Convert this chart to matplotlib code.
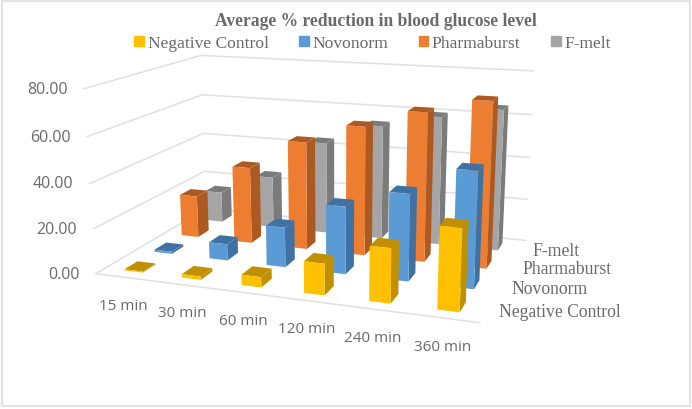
import numpy as np
import matplotlib
matplotlib.use("Agg")
import matplotlib.pyplot as plt
from matplotlib.patches import Patch, Rectangle

W, H = 692, 410
categories = ["15 min", "30 min", "60 min", "120 min", "240 min", "360 min"]
series = ["Negative Control", "Novonorm", "Pharmaburst", "F-melt"]
negative_control = [0.5, 1.5, 4.5, 13.5, 23, 34]
novonorm = [1, 7.5, 18, 30, 38, 50]
pharmaburst = [20, 36, 50, 59, 67, 73.5]
f_melt = [15, 25, 44, 54, 60, 65]
yticks = [0, 20, 40, 60, 80]
main_colors = ["#ffc000", "#5b9bd5", "#ed7d31", "#a5a5a5"]
dark_colors = ["#c09000", "#3f72a3", "#ad5a22", "#7b7b7b"]

# camera calibration: box corners (cat, series, value) -> reference pixels
world = np.array([(0,0,0),(0,0,80),(0,4,0),(0,4,80),(6,4,0),(6,4,80),(6,0,0)], float)
pix = np.array([(95,274),(85,90),(207,210),(200,56),(525,241),(534,72),(480,324)], float)
rows = []
for (X, Y, Z), (u, v) in zip(world, pix):
    rows.append([X, Y, Z, 1, 0, 0, 0, 0, -u*X, -u*Y, -u*Z, -u])
    rows.append([0, 0, 0, 0, X, Y, Z, 1, -v*X, -v*Y, -v*Z, -v])
P = np.linalg.svd(np.array(rows))[2][-1].reshape(3, 4)
if P[2] @ np.array([3, 2, 40, 1]) < 0:
    P = -P
P = P / abs(P[2] @ np.array([3, 2, 40, 1]))

def to_px(x, y, z):
    h = P @ np.array([x, y, z, 1.0])
    return h[0]/h[2], h[1]/h[2]

fig = plt.figure(figsize=(W/100, H/100), dpi=100, facecolor="white")
ax = fig.add_axes([0, 0, 1, 1], projection="3d", computed_zorder=False)
ax.set_axis_off()
ax.apply_aspect = lambda position=None: None

def get_proj():
    # pixel (y down) -> display -> 2D axes data
    flip = np.array([[1, 0, 0], [0, -1, H], [0, 0, 1.0]])
    A = ax.transData.inverted().get_matrix() @ flip @ P
    return np.array([A[0], A[1], [0, 0, 0, -1.0], A[2]])
ax.get_proj = get_proj

GRID = "#e0e0e0"
for v in yticks:
    ax.plot([0, 0, 6], [0, 4, 4], [v, v, v], color=GRID, lw=1.1, zorder=1)
ax.plot([0, 6], [0, 0], [0, 0], color=GRID, lw=1.1, zorder=1)

values = [negative_control, novonorm, pharmaburst, f_melt]
bw, bd = 0.32, 0.42
z = 10
for s in [3, 2, 1, 0]:
    for i, val in enumerate(values[s]):
        clear = (0, 0, 0, 0)
        faces = [clear, dark_colors[s], main_colors[s], clear, clear, dark_colors[s]]
        ax.bar3d(i + (1-bw)/2, s + (1-bd)/2, 0, bw, bd, val, color=faces,
                 shade=False, edgecolor="none", linewidth=0, zorder=z)
        z += 1

TXT = "#6a6a6a"
def ptext(x, y, s, **kw):
    fig.text(x/W, 1-y/H, s, color=TXT, va="center", **kw)

for v in yticks:
    x0, y0 = to_px(0, 0, v)
    ptext(x0-16.5, y0, f"{v:.2f}", ha="right", family="Open Sans", fontsize=11.5)

for i, c in enumerate(categories):
    x0, y0 = to_px(i+0.5, 0, 0)
    ptext(x0-1, y0+28, c, ha="center", family="Open Sans", fontsize=11)

for s, name in enumerate(series):
    x0, y0 = to_px(6, s+0.5, 0)
    ptext(x0+12, y0+1.5, name, ha="left", family="Liberation Serif", fontsize=12.7)

ptext(376, 22, "Average % reduction in blood glucose level", ha="center",
      family="Liberation Serif", fontsize=12.65, fontweight="bold")

handles = [Patch(color=c) for c in main_colors]
leg = fig.legend(handles, series, ncols=4, loc="center", bbox_to_anchor=(372.5/W, 1-44/H),
                 frameon=False, handlelength=0.55, handleheight=0.55, handletextpad=0.2,
                 columnspacing=1.75, prop={"family": "Liberation Serif", "size": 12.6},
                 labelcolor=TXT)

fig.add_artist(Rectangle((2/W, 1-407/H), 688/W, 405/H, transform=fig.transFigure,
                         fill=False, edgecolor="#e4e4e4", lw=1.6))
fig.savefig("out.png", dpi=100)
